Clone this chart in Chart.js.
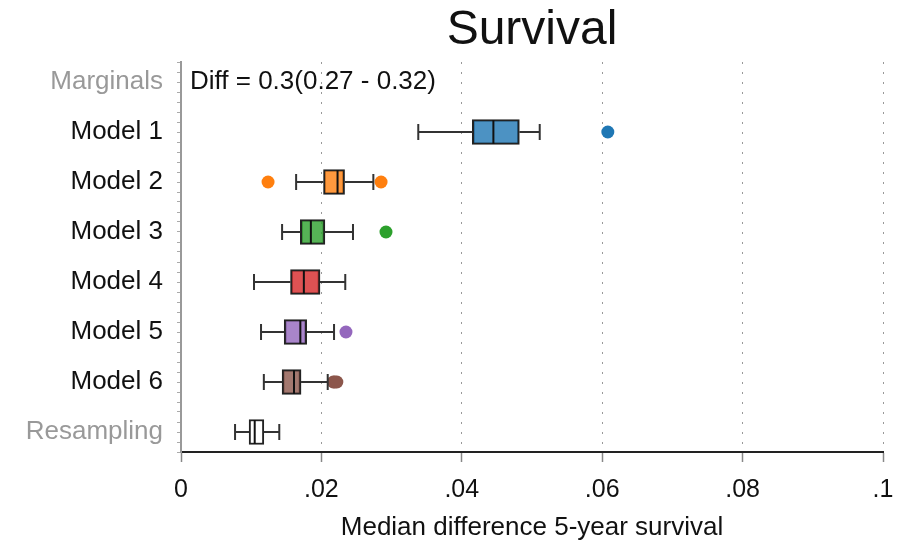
<!DOCTYPE html>
<html>
<head>
<meta charset="utf-8">
<script src="https://cdn.jsdelivr.net/npm/chart.js@4/dist/chart.umd.min.js"></script>
<style>
  body { margin: 0; background: #fff; }
  #wrap { width: 902px; height: 543px; }
</style>
</head>
<body>
<div id="wrap"><canvas id="survivalChart" width="902" height="543"></canvas></div>
<script>
// rows on the y axis (top to bottom)
const categories = ['Marginals', 'Model 1', 'Model 2', 'Model 3', 'Model 4', 'Model 5', 'Model 6', 'Resampling'];

// box plot stats for Model 1..6 and Resampling
const whiskerLow  = [0.0338, 0.0164, 0.0144, 0.0104, 0.0114, 0.0118, 0.0077];
const q1          = [0.0415, 0.0203, 0.0170, 0.0156, 0.0147, 0.0144, 0.0097];
const median      = [0.0445, 0.0223, 0.0185, 0.0175, 0.0170, 0.0161, 0.0105];
const q3          = [0.0482, 0.0233, 0.0205, 0.0198, 0.0179, 0.0171, 0.0118];
const whiskerHigh = [0.0511, 0.0274, 0.0245, 0.0234, 0.0218, 0.0209, 0.0140];
const outliers    = [[0.0608], [0.0124, 0.0285], [0.0292], [], [0.0235], [0.0217, 0.0219, 0.0222], []];

const xTicks = [0, 0.02, 0.04, 0.06, 0.08, 0.1];
const xTickLabels = ['0', '.02', '.04', '.06', '.08', '.1'];

const titleText = 'Survival';
const diffText = 'Diff = 0.3(0.27 - 0.32)';

const pointColors = ['#1f77b4', '#ff7f0e', '#2ca02c', '#d62728', '#9467bd', '#8c564b', '#ffffff'];
const boxFills = ['rgba(31,119,180,0.8)', 'rgba(255,127,14,0.8)', 'rgba(44,160,44,0.8)',
                  'rgba(214,39,40,0.8)', 'rgba(148,103,189,0.8)', 'rgba(140,86,75,0.8)', '#ffffff'];

const FONT = "'Liberation Sans', Arial, sans-serif";

const boxData = q1.map((v, i) => ({ x: [v, q3[i]], y: i + 1 }));
const outlierData = [];
const outlierColors = [];
outliers.forEach((list, i) => {
    list.forEach(v => {
        outlierData.push({ x: v, y: i + 1 });
        outlierColors.push(pointColors[i]);
    });
});

// whiskers, caps, medians, title and the "Diff" note
const boxExtras = {
    id: 'boxExtras',
    afterDatasetsDraw(chart) {
        const { ctx, chartArea, scales: { x, y } } = chart;
        ctx.save();
        ctx.strokeStyle = '#333';
        ctx.lineWidth = 2;
        q1.forEach((v, i) => {
            const yc = y.getPixelForValue(i + 1);
            const xl = x.getPixelForValue(whiskerLow[i]);
            const xq1 = x.getPixelForValue(v);
            const xq3 = x.getPixelForValue(q3[i]);
            const xh = x.getPixelForValue(whiskerHigh[i]);
            ctx.beginPath();
            ctx.moveTo(xl, yc); ctx.lineTo(xq1, yc);
            ctx.moveTo(xq3, yc); ctx.lineTo(xh, yc);
            ctx.moveTo(xl, yc - 8); ctx.lineTo(xl, yc + 8);
            ctx.moveTo(xh, yc - 8); ctx.lineTo(xh, yc + 8);
            ctx.stroke();
        });
        ctx.strokeStyle = '#111';
        ctx.lineWidth = 2;
        median.forEach((m, i) => {
            const yc = y.getPixelForValue(i + 1);
            const xm = x.getPixelForValue(m);
            ctx.beginPath();
            ctx.moveTo(xm, yc - 12); ctx.lineTo(xm, yc + 12);
            ctx.stroke();
        });
        ctx.fillStyle = '#111';
        ctx.textBaseline = 'middle';
        ctx.textAlign = 'left';
        ctx.font = '26px ' + FONT;
        ctx.fillText(diffText, chartArea.left + 9, y.getPixelForValue(0));
        ctx.textAlign = 'center';
        ctx.font = '48px ' + FONT;
        ctx.fillText(titleText, (chartArea.left + chartArea.right) / 2, 31);
        ctx.restore();
    }
};

const ctx = document.getElementById('survivalChart');
new Chart(ctx, {
    type: 'bar',
    data: {
        datasets: [{
            label: 'IQR',
            data: boxData,
            backgroundColor: boxFills,
            borderColor: '#222',
            borderWidth: 2,
            borderSkipped: false,
            barThickness: 25
        }, {
            type: 'scatter',
            label: 'Outliers',
            data: outlierData,
            pointRadius: 6.5,
            pointBackgroundColor: outlierColors,
            pointBorderWidth: 0,
            showLine: false
        }]
    },
    options: {
        indexAxis: 'y',
        responsive: false,
        animation: false,
        events: [],
        layout: { padding: { left: 0, right: 19, top: 62, bottom: 0 } },
        plugins: {
            legend: { display: false },
            tooltip: { enabled: false },
            title: { display: false }
        },
        scales: {
            x: {
                type: 'linear',
                min: 0,
                max: 0.1,
                afterBuildTicks: s => { s.ticks = xTicks.map(v => ({ value: v })); },
                afterFit: s => { s.height = 91; s.paddingLeft = 0; s.paddingRight = 0; },
                ticks: {
                    autoSkip: false,
                    maxRotation: 0,
                    padding: 13,
                    color: '#111',
                    font: { family: FONT, size: 25 },
                    callback: (v) => {
                        const k = xTicks.findIndex(t => Math.abs(t - v) < 1e-9);
                        return k >= 0 ? xTickLabels[k] : '';
                    }
                },
                grid: {
                    color: '#999',
                    lineWidth: 1,
                    tickLength: 10,
                    tickColor: '#888',
                    tickWidth: 1.5
                },
                border: { color: '#222', width: 2, dash: [2, 8] },
                title: {
                    display: true,
                    text: 'Median difference 5-year survival',
                    color: '#111',
                    font: { family: FONT, size: 26 },
                    padding: { top: 0, bottom: 0 }
                }
            },
            y: {
                type: 'linear',
                reverse: true,
                offset: false,
                min: -0.4,
                max: 7.4,
                afterBuildTicks: s => {
                    const t = [];
                    for (let i = 0; i <= 39; i++) t.push({ value: Math.round((-0.4 + i * 0.2) * 10) / 10 });
                    s.ticks = t;
                },
                afterFit: s => { s.width = 181; s.paddingTop = 0; s.paddingBottom = 0; },
                ticks: {
                    autoSkip: false,
                    padding: 14,
                    font: { family: FONT, size: 26, lineHeight: 0.05 },
                    color: (c) => {
                        const k = Math.round(c.tick.value);
                        return (k === 0 || k === categories.length - 1) ? '#999' : '#111';
                    },
                    callback: (v) => {
                        const k = Math.round(v);
                        return Math.abs(v - k) < 1e-6 ? categories[k] : '';
                    }
                },
                grid: {
                    offset: false,
                    drawOnChartArea: false,
                    tickLength: 4,
                    tickColor: '#aaa'
                },
                border: { color: '#999', width: 2 }
            }
        }
    },
    plugins: [boxExtras]
});
</script>
</body>
</html>
